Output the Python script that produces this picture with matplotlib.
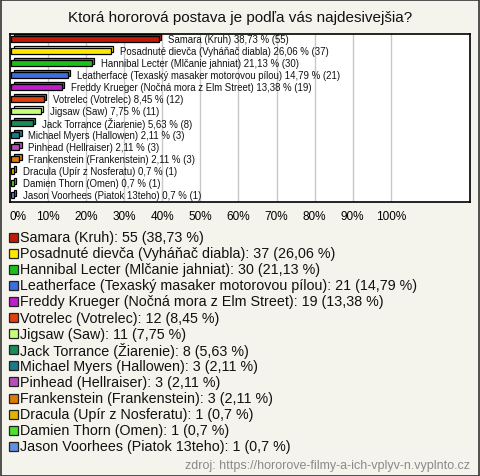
import matplotlib
matplotlib.use("Agg")
import matplotlib.pyplot as plt
from matplotlib.patches import Rectangle
import matplotlib.transforms as mtrans

names = [
    "Samara (Kruh)",
    "Posadnuté dievča (Vyháňač diabla)",
    "Hannibal Lecter (Mlčanie jahniat)",
    "Leatherface (Texaský masaker motorovou pílou)",
    "Freddy Krueger (Nočná mora z Elm Street)",
    "Votrelec (Votrelec)",
    "Jigsaw (Saw)",
    "Jack Torrance (Žiarenie)",
    "Michael Myers (Hallowen)",
    "Pinhead (Hellraiser)",
    "Frankenstein (Frankenstein)",
    "Dracula (Upír z Nosferatu)",
    "Damien Thorn (Omen)",
    "Jason Voorhees (Piatok 13teho)",
]
counts = [55, 37, 30, 21, 19, 12, 11, 8, 3, 3, 3, 1, 1, 1]
percents = [38.73, 26.06, 21.13, 14.79, 13.38, 8.45, 7.75, 5.63, 2.11, 2.11, 2.11, 0.7, 0.7, 0.7]
pct_labels = ["38,73", "26,06", "21,13", "14,79", "13,38", "8,45", "7,75", "5,63",
              "2,11", "2,11", "2,11", "0,7", "0,7", "0,7"]
colors = ["#c01a0a", "#ffe800", "#1cc01c", "#3c6ee0", "#c01ec8", "#e0400c", "#c8ff7a",
          "#1a8c5a", "#1a7a8c", "#b650b8", "#e0780a", "#e0b400", "#4ee030", "#6090e0"]
xticks = [0, 10, 20, 30, 40, 50, 60, 70, 80, 90, 100]
xtick_labels = ["0%", "10%", "20%", "30%", "40%", "50%", "60%", "70%", "80%", "90%", "100%"]

title = "Ktorá hororová postava je podľa vás najdesivejšia?"
source = "zdroj: https://hororove-filmy-a-ich-vplyv-n.vyplnto.cz"

BG = "#f4f3ec"
W, H = 480, 477
fig = plt.figure(figsize=(W / 100, H / 100), dpi=100, facecolor=BG)
plt.rcParams['font.family'] = ['Liberation Sans', 'DejaVu Sans']

# figure border
fig.patches.append(Rectangle((0.5 / W, 0.5 / H), 1 - 1.5 / W, 1 - 1.5 / H,
                             transform=fig.transFigure, fill=False,
                             edgecolor="#333333", linewidth=1.2))

fig.text(0.5, 1 - 18 / H, title, ha="center", va="center", fontsize=11, color="#111111")

ax = fig.add_axes([10 / W, 1 - 203 / H, 460 / W, 168 / H])
ax.set_facecolor("white")
ax.set_xlim(0, 120.8)
n = len(names)
ax.set_ylim(n - 0.42, -0.42)
ax.set_yticks([])
ax.set_xticks(xticks)
ax.set_xticklabels(xtick_labels, fontsize=8.5)
ax.tick_params(axis="x", length=0, pad=6)
ax.get_xticklabels()[0].set_horizontalalignment("left")
ax.grid(axis="x", color="#c8c8c8", linewidth=1)
ax.set_axisbelow(True)
for s in ax.spines.values():
    s.set_linewidth(1.2)
    s.set_color("black")

ys = list(range(n))
bar_h = 0.45
# 3D offset (back face)
off = mtrans.offset_copy(ax.transData, fig=fig, x=2.2, y=2.2, units="dots")
ax.barh(ys, percents, height=bar_h, left=0.35, color=colors, edgecolor="black",
        linewidth=0.9, transform=off, zorder=2)
ax.barh(ys, percents, height=bar_h, left=0.35, color=colors, edgecolor="black",
        linewidth=0.9, zorder=3)

lab_off = mtrans.offset_copy(ax.transData, fig=fig, x=9, y=0, units="dots")
for y, name, p, pl, c in zip(ys, names, percents, pct_labels, counts):
    ax.text(p + 0.35, y, f"{name} {pl} % ({c})", transform=lab_off,
            ha="left", va="center", fontsize=6.9, color="#111111", zorder=4)

# legend below
for i, (name, c, pl, col) in enumerate(zip(names, counts, pct_labels, colors)):
    yc = 1 - (238 + i * 16.1) / H
    fig.patches.append(Rectangle((9 / W, yc - 4.5 / H), 9 / W, 9 / H,
                                 transform=fig.transFigure, facecolor=col,
                                 edgecolor="#222222", linewidth=0.9))
    fig.text(20 / W, yc, f"{name}: {c} ({pl} %)", ha="left", va="center",
             fontsize=10.3, color="#111111")

fig.text(470 / W, 1 - 466 / H, source, ha="right", va="center", fontsize=9,
         color="#8a8a8a")

fig.savefig("out.png", dpi=100, facecolor=BG)
